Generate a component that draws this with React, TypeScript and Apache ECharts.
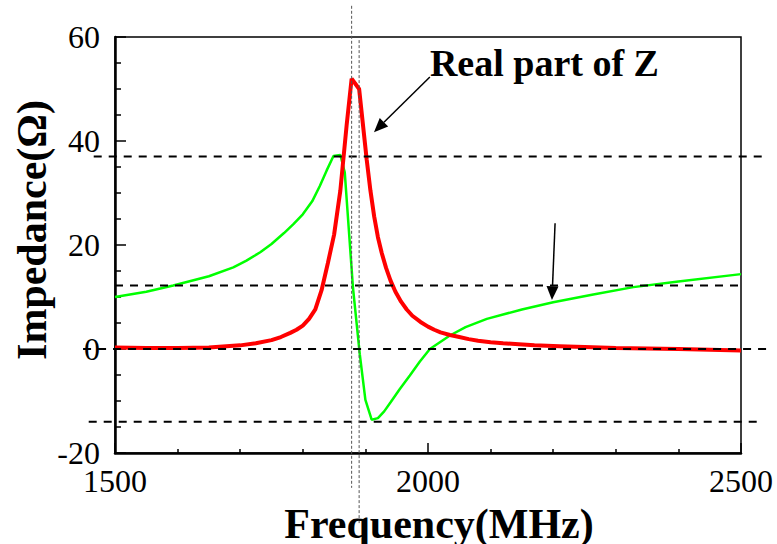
import React, { useEffect, useRef } from "react";
import * as echarts from "echarts";

// Real part of Z (red)
const freqReal = [1500, 1550, 1600, 1650, 1700, 1725, 1750, 1765, 1780, 1790, 1800, 1810, 1820, 1830, 1840, 1850, 1860, 1870, 1878, 1890, 1902, 1908, 1914, 1920, 1926, 1933, 1940, 1948, 1957, 1966, 1975, 1988, 2000, 2010, 2020, 2035, 2050, 2065, 2080, 2100, 2120, 2145, 2170, 2210, 2250, 2300, 2400, 2500];
const realZ = [0.3, 0.2, 0.2, 0.3, 0.7, 1.1, 1.7, 2.3, 3.1, 3.7, 4.5, 5.8, 7.6, 11.3, 16.5, 22, 30.5, 43, 52, 50, 36.5, 30.5, 25.5, 21.5, 18.5, 15.6, 13.2, 11, 9.1, 7.6, 6.4, 5.2, 4.3, 3.7, 3.2, 2.7, 2.3, 1.9, 1.6, 1.3, 1.1, 0.9, 0.7, 0.55, 0.4, 0.2, 0.0, -0.3];

// Imaginary part of Z (green)
const freqImag = [1500, 1550, 1593, 1650, 1689, 1710, 1732, 1750, 1770, 1785, 1800, 1815, 1827, 1838, 1849, 1860, 1867, 1880, 1891, 1900, 1910, 1920, 1930, 1940, 1955, 1971, 1987, 2003, 2019, 2035, 2060, 2094, 2150, 2200, 2264, 2328, 2400, 2500];
const imagZ = [10, 11, 12.2, 14, 15.7, 17, 18.6, 20.2, 22.3, 24, 25.9, 28.4, 31.3, 34.3, 37.1, 37.3, 34, 12, -1, -9.8, -13.6, -13.3, -12, -10.3, -7.7, -5.1, -2.4, 0, 1.3, 2.6, 4.2, 5.8, 7.6, 9, 10.5, 11.9, 13, 14.4];

const xRange = [1500, 2500];
const xInterval = 500;
const yRange = [-20, 60];
const yInterval = 20;

// horizontal dashed reference levels and their horizontal extents (MHz)
const refLevels = [37, 12.2, 0, -14];
const refSpans = [[1466, 2535], [1500, 2500], [1449, 2547], [1458, 2533]];

// vertical dotted markers (MHz) and their vertical extents (Ohm)
const markerFreqs = [1878, 1890];
const markerSpans = [[66, -26.7], [59.4, -33.8]];

// arrows: [tailFreq, tailZ, tipFreq, tipZ]
const arrows = [
  [2003, 52.3, 1913.7, 41.7],
  [2203, 24.2, 2198, 9.4],
];
const annotationText = "Real part of Z";
const annotationPos = [2003, 55];

const xTitle = "Frequency(MHz)";
const yTitle = "Impedance(Ω)";

const FONT = "Liberation Serif";

export default function App() {
  const ref = useRef<HTMLDivElement>(null);
  useEffect(() => {
    if (!ref.current) return;
    const chart = echarts.init(ref.current, undefined, { renderer: "svg" });
    const option: any = {
      animation: false,
      backgroundColor: "#fff",
      grid: {
        left: 115,
        top: 37,
        width: 626,
        height: 416,
        show: true,
        borderColor: "#000",
        borderWidth: 1.5,
        backgroundColor: "transparent",
      },
      xAxis: {
        type: "value",
        min: xRange[0],
        max: xRange[1],
        interval: xInterval,
        axisLine: { show: true, onZero: false, lineStyle: { color: "#000", width: 2.5 } },
        axisTick: { show: true, inside: true, length: 10, lineStyle: { color: "#000", width: 1.5 } },
        minorTick: { show: true, splitNumber: 5, length: 4, lineStyle: { color: "#000", width: 1.5 } },
        splitLine: { show: false },
        axisLabel: {
          color: "#000",
          fontFamily: FONT,
          fontSize: 32,
          margin: 12,
          formatter: (v: number) => String(v),
        },
      },
      yAxis: {
        type: "value",
        min: yRange[0],
        max: yRange[1],
        interval: yInterval,
        axisLine: { show: true, onZero: false, lineStyle: { color: "#000", width: 2.5 } },
        axisTick: { show: true, inside: true, length: 11, lineStyle: { color: "#000", width: 1.5 } },
        minorTick: { show: true, splitNumber: 4, length: 6, lineStyle: { color: "#000", width: 1.5 } },
        splitLine: { show: false },
        axisLabel: {
          color: "#000",
          fontFamily: FONT,
          fontSize: 32,
          margin: 15,
          formatter: (v: number) => String(v),
        },
      },
      series: [
        {
          type: "line",
          name: "Imag",
          data: freqImag.map((f, i) => [f, imagZ[i]]),
          showSymbol: false,
          symbol: "none",
          lineStyle: { color: "#00ff00", width: 2.5 },
          z: 2,
        },
        {
          type: "line",
          name: "Real",
          data: freqReal.map((f, i) => [f, realZ[i]]),
          showSymbol: false,
          symbol: "none",
          lineStyle: { color: "#ff0000", width: 4 },
          z: 3,
        },
      ],
    };
    chart.setOption(option);

    const px = (x: number, y: number) => chart.convertToPixel({ gridIndex: 0 }, [x, y]) as number[];
    const graphics: any[] = [];

    refLevels.forEach((lv, i) => {
      const a = px(refSpans[i][0], lv);
      const b = px(refSpans[i][1], lv);
      graphics.push({
        type: "line",
        silent: true,
        z: 100,
        shape: { x1: a[0], y1: a[1], x2: b[0], y2: b[1] },
        style: { stroke: "#000", lineWidth: 2, lineDash: [8, 7] },
      });
    });

    markerFreqs.forEach((f, i) => {
      const a = px(f, markerSpans[i][0]);
      const b = px(f, markerSpans[i][1]);
      graphics.push({
        type: "line",
        silent: true,
        z: 100,
        shape: { x1: a[0], y1: a[1], x2: b[0], y2: b[1] },
        style: { stroke: "#555", lineWidth: 1, lineDash: [3, 2] },
      });
    });

    arrows.forEach((ar) => {
      const t = px(ar[0], ar[1]);
      const p = px(ar[2], ar[3]);
      const dx = p[0] - t[0];
      const dy = p[1] - t[1];
      const len = Math.sqrt(dx * dx + dy * dy);
      const ux = dx / len;
      const uy = dy / len;
      const L = 14;
      const W = 6;
      const bx = p[0] - ux * L;
      const by = p[1] - uy * L;
      const nx = -uy;
      const ny = ux;
      graphics.push({
        type: "line",
        silent: true,
        z: 101,
        shape: { x1: t[0], y1: t[1], x2: bx, y2: by },
        style: { stroke: "#000", lineWidth: 1.5 },
      });
      graphics.push({
        type: "polygon",
        silent: true,
        z: 101,
        shape: { points: [[p[0], p[1]], [bx + nx * W, by + ny * W], [bx - nx * W, by - ny * W]] },
        style: { fill: "#000" },
      });
    });

    const ap = px(annotationPos[0], annotationPos[1]);
    graphics.push({
      type: "text",
      silent: true,
      z: 102,
      x: ap[0],
      y: ap[1],
      style: {
        text: annotationText,
        fill: "#000",
        fontFamily: FONT,
        fontWeight: "bold",
        fontSize: 38,
        textAlign: "left",
        textVerticalAlign: "middle",
      },
    });

    graphics.push({
      type: "text",
      silent: true,
      z: 102,
      x: 439,
      y: 524,
      style: {
        text: xTitle,
        fill: "#000",
        fontFamily: FONT,
        fontWeight: "bold",
        fontSize: 42,
        textAlign: "center",
        textVerticalAlign: "middle",
      },
    });
    graphics.push({
      type: "text",
      silent: true,
      z: 102,
      x: 32,
      y: 230,
      rotation: Math.PI / 2,
      style: {
        text: yTitle,
        fill: "#000",
        fontFamily: FONT,
        fontWeight: "bold",
        fontSize: 42,
        textAlign: "center",
        textVerticalAlign: "middle",
      },
    });

    chart.setOption({ graphic: { elements: graphics } });

    return () => chart.dispose();
  }, []);
  return (
    <div
      ref={ref}
      style={{ position: "fixed", left: 0, top: 0, width: 777, height: 544 }}
    />
  );
}
